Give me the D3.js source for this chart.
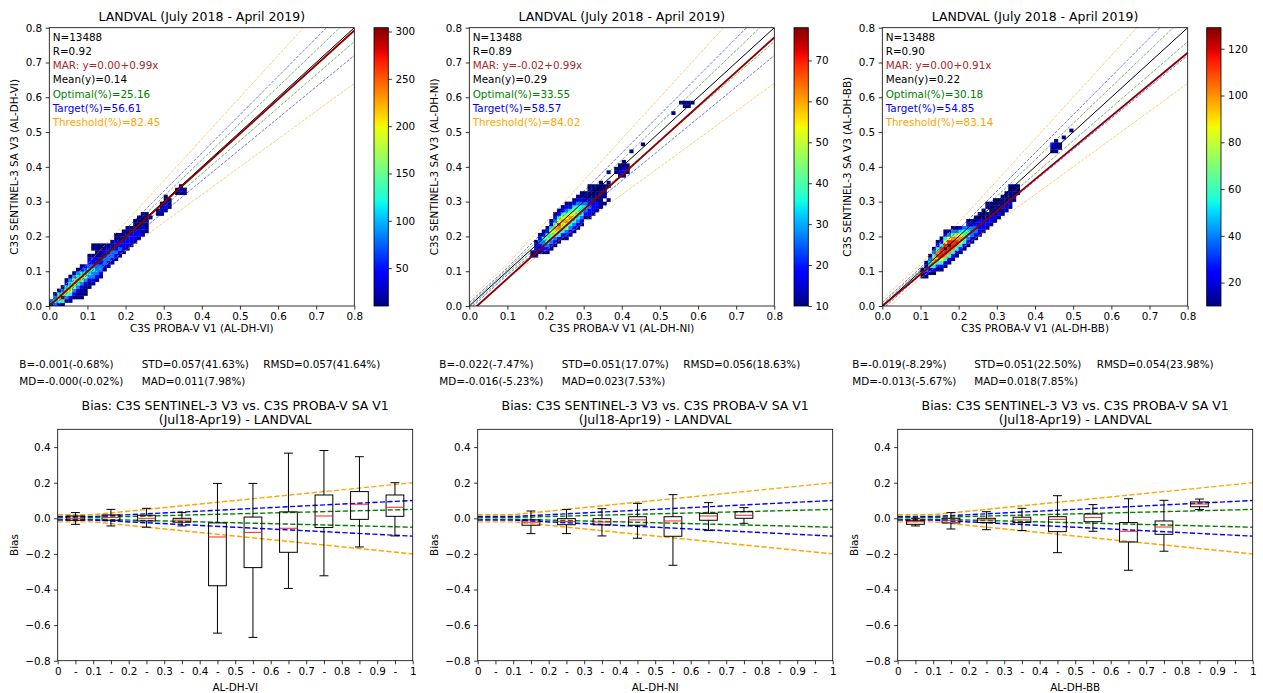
<!DOCTYPE html>
<html>
<head>
<meta charset="utf-8">
<script src="https://cdn.jsdelivr.net/npm/d3@7"></script>
<style>
  body { margin: 0; background: #fff; }
</style>
</head>
<body>
<div id="wrapper"></div>
<script>
(function () {
  "use strict";

  // DATA
  const variables = ["AL-DH-VI", "AL-DH-NI", "AL-DH-BB"]
  const statN = ["13488", "13488", "13488"]
  const statR = ["0.92", "0.89", "0.90"]
  const marText = ["y=0.00+0.99x", "y=-0.02+0.99x", "y=0.00+0.91x"]
  const marIntercept = [0.00, -0.02, 0.00]
  const marSlope = [0.99, 0.99, 0.91]
  const meanY = ["0.14", "0.29", "0.22"]
  const optimalPct = ["25.16", "33.55", "30.18"]
  const targetPct = ["56.61", "58.57", "54.85"]
  const thresholdPct = ["82.45", "84.02", "83.14"]

  // requirement levels: optimal, target, threshold
  const reqColors = ["green", "blue", "orange"]
  const reqAbs = [0.005, 0.01, 0.02]
  const reqPct = [0.05, 0.10, 0.20]

  const colorMin = 10
  const colorMax = [304, 78, 129]
  const colorTicks = [
    [50, 100, 150, 200, 250, 300],
    [10, 20, 30, 40, 50, 60, 70],
    [20, 40, 60, 80, 100, 120]
  ]

  // 2D histogram, bins of 0.01: [x bin, first y bin, density level per y bin (1 = low .. 9 = high, 0 = empty)]
  const binSize = 0.01
  const densVI = [
    [0, 0, "23"], [1, 0, "3431"], [2, 0, "24641"], [3, 0, "149531"],
    [4, 1, "1356421"], [5, 1, "12465431"], [6, 2, "12356531"], [7, 2, "112346431"],
    [8, 2, "1112356421"], [9, 3, "111235432"], [10, 5, "1123443221"],
    [11, 6, "123343221011"], [12, 7, "12333221111"], [13, 8, "1233221111"],
    [14, 10, "12332211"], [15, 11, "1233221"], [16, 12, "1233211"], [17, 13, "12322211"],
    [18, 14, "1232211"], [19, 15, "1222111"], [20, 16, "1222211"], [21, 17, "122211"],
    [22, 18, "1222111"], [23, 19, "1221111"], [24, 20, "1121111"], [25, 21, "111111"],
    [26, 25, "1"], [28, 26, "11"], [29, 26, "1211"], [30, 27, "12211"], [31, 28, "111"],
    [33, 32, "11"], [34, 32, "121"], [35, 32, "11"]
  ]
  const densNI = [
    [16, 14, "11"], [17, 14, "11221"], [18, 15, "122321"], [19, 15, "1233421"],
    [20, 15, "12345421"], [21, 16, "123456421"], [22, 17, "1235675321"],
    [23, 18, "1245786421"], [24, 19, "1245676421"], [25, 19, "12356765321"],
    [26, 20, "1234676421"], [27, 21, "1234565421"], [28, 22, "1234554321"],
    [29, 23, "1234443211"], [30, 25, "12343211"], [31, 25, "1223221111"],
    [32, 26, "122211111"], [33, 27, "12211111"], [34, 28, "11111111"], [35, 29, "101111"],
    [36, 30, "1"], [36, 34, "11"], [36, 38, "1"], [38, 38, "11"], [39, 37, "1211"],
    [40, 37, "12211"], [41, 38, "111"], [42, 44, "1"], [45, 46, "1"], [53, 55, "1"],
    [55, 58, "1"], [56, 57, "11"], [57, 57, "11"], [58, 58, "1"]
  ]
  const densBB = [
    [10, 8, "111"], [11, 8, "12321"], [12, 9, "124431"], [13, 9, "12467531"],
    [14, 10, "124687421"], [15, 10, "1246888421"], [16, 11, "12478986421"],
    [17, 12, "1247898631"], [18, 13, "1247887531"], [19, 14, "124787631"],
    [20, 15, "12467642"], [21, 16, "1245543"], [22, 17, "12344321"], [23, 18, "1233321"],
    [24, 19, "1233221"], [25, 20, "1222211"], [26, 21, "1222111"], [27, 22, "12211011"],
    [28, 23, "1221111"], [29, 24, "1211111"], [30, 25, "121111"], [31, 26, "112111"],
    [32, 27, "121111"], [33, 28, "1211111"], [34, 30, "11111"], [35, 32, "111"],
    [44, 44, "112"], [45, 44, "1211"], [46, 45, "11"], [47, 48, "1"], [49, 50, "1"]
  ]
  const densities = [densVI, densNI, densBB]

  // summary statistics under each scatter
  const statB = ["B=-0.001(-0.68%)", "B=-0.022(-7.47%)", "B=-0.019(-8.29%)"]
  const statSTD = ["STD=0.057(41.63%)", "STD=0.051(17.07%)", "STD=0.051(22.50%)"]
  const statRMSD = ["RMSD=0.057(41.64%)", "RMSD=0.056(18.63%)", "RMSD=0.054(23.98%)"]
  const statMD = ["MD=-0.000(-0.02%)", "MD=-0.016(-5.23%)", "MD=-0.013(-5.67%)"]
  const statMAD = ["MAD=0.011(7.98%)", "MAD=0.023(7.53%)", "MAD=0.018(7.85%)"]

  // bias boxplots: [bin centre, whisker low, q1, median, q3, whisker high]
  const boxVI = [
    [0.05, -0.034, -0.011, 0.000, 0.013, 0.032],
    [0.15, -0.043, -0.011, 0.004, 0.019, 0.050],
    [0.25, -0.050, -0.015, 0.000, 0.017, 0.056],
    [0.35, -0.043, -0.022, -0.010, 0.000, 0.032],
    [0.45, -0.645, -0.379, -0.105, -0.026, 0.196],
    [0.55, -0.669, -0.277, -0.079, 0.007, 0.196],
    [0.65, -0.394, -0.191, -0.056, 0.036, 0.366],
    [0.75, -0.323, -0.052, 0.013, 0.131, 0.381],
    [0.85, -0.161, -0.006, 0.079, 0.150, 0.346],
    [0.95, -0.099, 0.011, 0.062, 0.131, 0.200]
  ]
  const boxNI = [
    [0.15, -0.086, -0.039, -0.022, -0.009, 0.041],
    [0.25, -0.086, -0.036, -0.019, -0.002, 0.050],
    [0.35, -0.099, -0.037, -0.021, -0.002, 0.054],
    [0.45, -0.112, -0.039, -0.009, 0.009, 0.084],
    [0.55, -0.264, -0.101, -0.015, 0.009, 0.133],
    [0.65, -0.069, -0.011, 0.013, 0.028, 0.088],
    [0.75, -0.028, 0.000, 0.017, 0.037, 0.060]
  ]
  const boxBB = [
    [0.05, -0.043, -0.034, -0.019, -0.011, 0.000],
    [0.15, -0.060, -0.026, -0.011, 0.000, 0.032],
    [0.25, -0.064, -0.024, -0.009, 0.000, 0.037],
    [0.35, -0.069, -0.024, -0.009, 0.006, 0.056],
    [0.45, -0.193, -0.075, -0.006, 0.009, 0.127],
    [0.55, -0.073, -0.019, 0.004, 0.024, 0.077],
    [0.65, -0.292, -0.133, -0.073, -0.024, 0.110],
    [0.75, -0.185, -0.090, -0.049, -0.015, 0.101],
    [0.85, 0.049, 0.065, 0.080, 0.092, 0.108]
  ]
  const boxes = [boxVI, boxNI, boxBB]

  const scatterTicks = [0, 0.1, 0.2, 0.3, 0.4, 0.5, 0.6, 0.7, 0.8]
  const biasTicks = [-0.8, -0.6, -0.4, -0.2, 0, 0.2, 0.4]
  const biasXTicks = [0, 0.05, 0.1, 0.15, 0.2, 0.25, 0.3, 0.35, 0.4, 0.45, 0.5,
    0.55, 0.6, 0.65, 0.7, 0.75, 0.8, 0.85, 0.9, 0.95, 1]
  const biasXLabels = ["0", "-", "0.1", "-", "0.2", "-", "0.3", "-", "0.4", "-", "0.5",
    "-", "0.6", "-", "0.7", "-", "0.8", "-", "0.9", "-", "1"]

  // LAYOUT
  const FONT = "'DejaVu Sans', sans-serif"
  const topPanels = [
    { left: 49.3, right: 354.3, cbar: 374, ylab: 14 },
    { left: 469.3, right: 774.3, cbar: 794, ylab: 434 },
    { left: 882.3, right: 1187.7, cbar: 1206.7, ylab: 847 }
  ]
  const topY = { top: 27.7, bottom: 306 }
  const cbarWidth = 14.3
  const botLeft = [57.7, 477.7, 897.7]
  const botWidth = 355
  const botY = { top: 429.3, bottom: 660.7 }
  const statX = [[19.3, 141.7, 263.3], [439.3, 561.7, 683.3], [852.3, 974.3, 1096.7]]
  const botYLab = [14, 434, 854]

  const svg = d3.select("#wrapper").append("svg")
    .attr("width", 1263)
    .attr("height", 693)
    .style("font-family", FONT)

  // jet colormap
  const jet = d3.scaleLinear()
    .domain([0, 0.11, 0.125, 0.34, 0.35, 0.375, 0.64, 0.65, 0.66, 0.89, 0.91, 1])
    .range(["#000080", "#0000ff", "#0000ff", "#00dbff", "#00e6f7", "#15ffe2",
      "#efff08", "#f7f500", "#ffec00", "#ff1300", "#e80000", "#800000"])
    .interpolate(d3.interpolateRgb)
    .clamp(true)

  const defs = svg.append("defs")
  const grad = defs.append("linearGradient")
    .attr("id", "jetgrad")
    .attr("x1", 0).attr("y1", 1).attr("x2", 0).attr("y2", 0)
  d3.range(0, 1.0001, 0.02).forEach(t => {
    grad.append("stop").attr("offset", t).attr("stop-color", jet(t))
  })

  function styleAxis(g) {
    g.attr("font-family", FONT).attr("font-size", 10.4)
    g.select(".domain").remove()
    g.selectAll(".tick line").attr("stroke", "#000").attr("stroke-width", 0.8)
    g.selectAll(".tick text").attr("fill", "#000")
  }

  function addText(x, y, txt, opts) {
    const o = opts || {}
    return svg.append("text")
      .attr("x", x).attr("y", y)
      .attr("dominant-baseline", "central")
      .attr("text-anchor", o.anchor || "start")
      .attr("font-size", o.size || 10.4)
      .attr("fill", o.fill || "#000")
      .text(txt)
  }

  // SCATTER DENSITY PANELS
  function drawScatter(k) {
    const p = topPanels[k]
    const x = d3.scaleLinear().domain([0, 0.8]).range([p.left, p.right])
    const y = d3.scaleLinear().domain([0, 0.8]).range([topY.bottom, topY.top])

    defs.append("clipPath").attr("id", "clipTop" + k)
      .append("rect")
      .attr("x", p.left).attr("y", topY.top)
      .attr("width", p.right - p.left).attr("height", topY.bottom - topY.top)

    const g = svg.append("g").attr("clip-path", `url(#clipTop${k})`)

    const cells = []
    densities[k].forEach(([i, j0, levels]) => {
      levels.split("").forEach((c, n) => {
        const lev = +c
        if (lev > 0) cells.push({ i: i, j: j0 + n, count: colorMin + (colorMax[k] - colorMin) * (lev - 1) / 8 })
      })
    })
    const cnorm = d3.scaleLinear().domain([colorMin, colorMax[k]]).range([0, 1])
    const cw = x(binSize) - x(0)
    const ch = y(0) - y(binSize)
    g.append("g").selectAll("rect")
      .data(cells)
      .join("rect")
      .attr("x", d => x(d.i * binSize))
      .attr("y", d => y((d.j + 1) * binSize))
      .attr("width", cw + 0.3)
      .attr("height", ch + 0.3)
      .attr("fill", d => jet(cnorm(d.count)))

    const line = d3.line().x(d => x(d[0])).y(d => y(d[1]))

    // requirement envelopes
    reqAbs.forEach((a, r) => {
      const brk = a / reqPct[r]
      ;[1, -1].forEach(s => {
        const pts = [0, brk, 0.8].map(v => [v, v + s * Math.max(a, reqPct[r] * v)])
        g.append("path")
          .attr("d", line(pts))
          .attr("fill", "none")
          .attr("stroke", reqColors[r])
          .attr("stroke-width", 0.8)
          .attr("stroke-opacity", 0.7)
          .attr("stroke-dasharray", "3,1.4")
      })
    })

    // 1:1 line
    g.append("path")
      .attr("d", line([[0, 0], [0.8, 0.8]]))
      .attr("stroke", "#000").attr("stroke-width", 1).attr("fill", "none")

    // MAR regression line
    g.append("path")
      .attr("d", line([0, 0.8].map(v => [v, marIntercept[k] + marSlope[k] * v])))
      .attr("stroke", "#8b0000").attr("stroke-width", 1.9).attr("fill", "none")

    // frame
    svg.append("rect")
      .attr("x", p.left).attr("y", topY.top)
      .attr("width", p.right - p.left).attr("height", topY.bottom - topY.top)
      .attr("fill", "none").attr("stroke", "#000").attr("stroke-width", 0.8)

    // axes
    svg.append("g")
      .attr("transform", `translate(0,${topY.bottom})`)
      .call(d3.axisBottom(x).tickValues(scatterTicks).tickFormat(d3.format(".1f")).tickSize(3.6).tickPadding(3.5))
      .call(styleAxis)
    svg.append("g")
      .attr("transform", `translate(${p.left},0)`)
      .call(d3.axisLeft(y).tickValues(scatterTicks).tickFormat(d3.format(".1f")).tickSize(3.6).tickPadding(3.5))
      .call(styleAxis)

    // labels
    const cx = (p.left + p.right) / 2
    addText(cx, 16.5, "LANDVAL (July 2018 - April 2019)", { anchor: "middle", size: 12.5 })
    addText(cx, 327.5, `C3S PROBA-V V1 (${variables[k]})`, { anchor: "middle" })
    svg.append("text")
      .attr("transform", `translate(${p.ylab},${(topY.top + topY.bottom) / 2}) rotate(-90)`)
      .attr("text-anchor", "middle")
      .attr("dominant-baseline", "central")
      .attr("font-size", 10.4)
      .text(`C3S SENTINEL-3 SA V3 (${variables[k]})`)

    // annotation block
    const notes = [
      [`N=${statN[k]}`, "#000"],
      [`R=${statR[k]}`, "#000"],
      [`MAR: ${marText[k]}`, "brown"],
      [`Mean(y)=${meanY[k]}`, "#000"],
      [`Optimal(%)=${optimalPct[k]}`, "green"],
      [`Target(%)=${targetPct[k]}`, "blue"],
      [`Threshold(%)=${thresholdPct[k]}`, "orange"]
    ]
    notes.forEach((n, i) => {
      addText(p.left + 3.4, 36.9 + i * 14.15, n[0], { fill: n[1] })
    })

    // colorbar
    svg.append("rect")
      .attr("x", p.cbar).attr("y", topY.top)
      .attr("width", cbarWidth).attr("height", topY.bottom - topY.top)
      .attr("fill", "url(#jetgrad)")
      .attr("stroke", "#000").attr("stroke-width", 0.8)
    const cy = d3.scaleLinear().domain([colorMin, colorMax[k]]).range([topY.bottom, topY.top])
    svg.append("g")
      .attr("transform", `translate(${p.cbar + cbarWidth},0)`)
      .call(d3.axisRight(cy).tickValues(colorTicks[k]).tickSize(3.6).tickPadding(3.5))
      .call(styleAxis)
  }

  // BIAS BOXPLOT PANELS
  function drawBias(k) {
    const left = botLeft[k]
    const x = d3.scaleLinear().domain([0, 1]).range([left, left + botWidth])
    const y = d3.scaleLinear().domain([-0.8, 0.5]).range([botY.bottom, botY.top])

    // stats text
    addText(statX[k][0], 364, statB[k])
    addText(statX[k][1], 364, statSTD[k])
    addText(statX[k][2], 364, statRMSD[k])
    addText(statX[k][0], 381, statMD[k])
    addText(statX[k][1], 381, statMAD[k])

    const cx = left + botWidth / 2
    addText(cx, 405.7, "Bias: C3S SENTINEL-3 V3 vs. C3S PROBA-V SA V1", { anchor: "middle", size: 12.5 })
    addText(cx, 419.2, "(Jul18-Apr19) - LANDVAL", { anchor: "middle", size: 12.5 })

    defs.append("clipPath").attr("id", "clipBot" + k)
      .append("rect")
      .attr("x", left).attr("y", botY.top)
      .attr("width", botWidth).attr("height", botY.bottom - botY.top)
    const g = svg.append("g").attr("clip-path", `url(#clipBot${k})`)

    const line = d3.line().x(d => x(d[0])).y(d => y(d[1]))
    reqAbs.forEach((a, r) => {
      const brk = a / reqPct[r]
      ;[1, -1].forEach(s => {
        const pts = [0, brk, 1].map(v => [v, s * Math.max(a, reqPct[r] * v)])
        g.append("path")
          .attr("d", line(pts))
          .attr("fill", "none")
          .attr("stroke", reqColors[r])
          .attr("stroke-width", 1.4)
          .attr("stroke-dasharray", "5.2,2.3")
      })
    })

    const boxW = 0.05
    const capW = 0.025
    const bg = g.append("g")
      .selectAll("g")
      .data(boxes[k])
      .join("g")

    bg.append("line")
      .attr("x1", d => x(d[0])).attr("x2", d => x(d[0]))
      .attr("y1", d => y(d[4])).attr("y2", d => y(d[5]))
      .attr("stroke", "#000").attr("stroke-width", 1)
    bg.append("line")
      .attr("x1", d => x(d[0])).attr("x2", d => x(d[0]))
      .attr("y1", d => y(d[1])).attr("y2", d => y(d[2]))
      .attr("stroke", "#000").attr("stroke-width", 1)
    ;[1, 5].forEach(idx => {
      bg.append("line")
        .attr("x1", d => x(d[0] - capW / 2)).attr("x2", d => x(d[0] + capW / 2))
        .attr("y1", d => y(d[idx])).attr("y2", d => y(d[idx]))
        .attr("stroke", "#000").attr("stroke-width", 1)
    })
    bg.append("rect")
      .attr("x", d => x(d[0] - boxW / 2))
      .attr("y", d => y(d[4]))
      .attr("width", x(boxW) - x(0))
      .attr("height", d => Math.max(0.5, y(d[2]) - y(d[4])))
      .attr("fill", "none")
      .attr("stroke", "#000").attr("stroke-width", 1)
    bg.append("line")
      .attr("x1", d => x(d[0] - boxW / 2)).attr("x2", d => x(d[0] + boxW / 2))
      .attr("y1", d => y(d[3])).attr("y2", d => y(d[3]))
      .attr("stroke", "#ff2020").attr("stroke-width", 1)

    svg.append("rect")
      .attr("x", left).attr("y", botY.top)
      .attr("width", botWidth).attr("height", botY.bottom - botY.top)
      .attr("fill", "none").attr("stroke", "#000").attr("stroke-width", 0.8)

    svg.append("g")
      .attr("transform", `translate(0,${botY.bottom})`)
      .call(d3.axisBottom(x).tickValues(biasXTicks).tickFormat((d, i) => biasXLabels[i]).tickSize(3.6).tickPadding(3.5))
      .call(styleAxis)
    svg.append("g")
      .attr("transform", `translate(${left},0)`)
      .call(d3.axisLeft(y).tickValues(biasTicks).tickFormat(d3.format(".1f")).tickSize(3.6).tickPadding(3.5))
      .call(styleAxis)

    addText(cx, 686.5, variables[k], { anchor: "middle" })
    svg.append("text")
      .attr("transform", `translate(${botYLab[k]},${(botY.top + botY.bottom) / 2}) rotate(-90)`)
      .attr("text-anchor", "middle")
      .attr("dominant-baseline", "central")
      .attr("font-size", 10.4)
      .text("Bias")
  }

  for (let k = 0; k < 3; k++) {
    drawScatter(k)
    drawBias(k)
  }
})();
</script>
</body>
</html>
